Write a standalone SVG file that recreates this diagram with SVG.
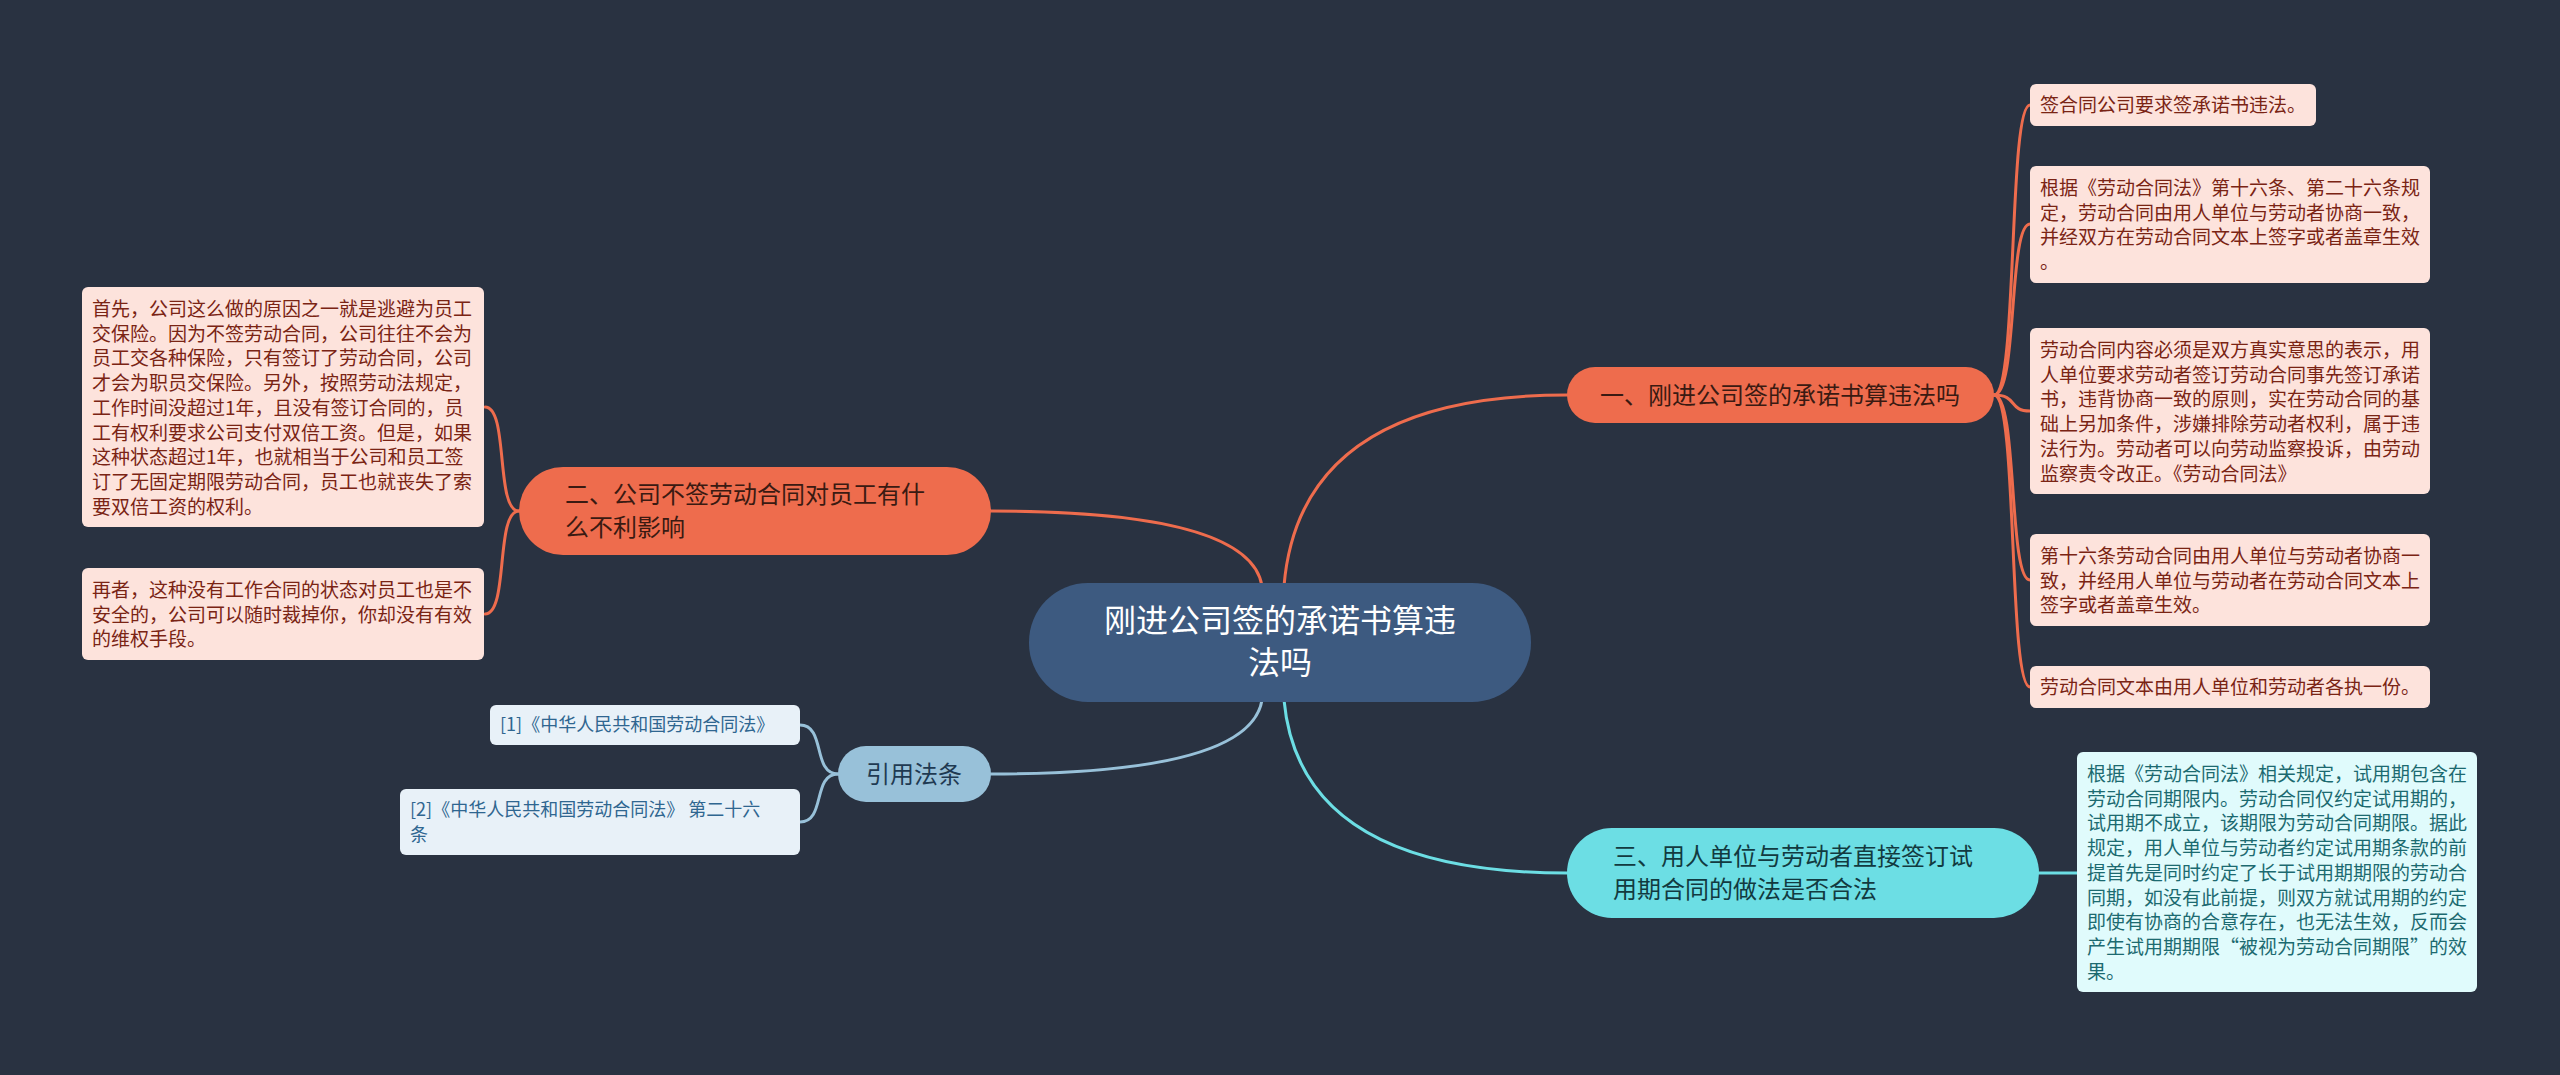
<svg xmlns="http://www.w3.org/2000/svg" width="2560" height="1075" viewBox="0 0 2560 1075">
<style>
text{font-family:"Noto Sans CJK SC","Noto Sans",sans-serif}
.c{fill:none;stroke-width:3;stroke-linecap:round}
.or{stroke:#ee6c4d}.cy{stroke:#6cdee4}.lb{stroke:#98c1d9}
.leafO{fill:#fde3dc}.leafC{fill:#e0fbfc}.leafB{fill:#e8f1f8}
.tO{font-size:19px;fill:#7a2414}
.tC{font-size:19px;fill:#1c6a70}
.tB{font-size:18px;fill:#2f6690}
.main{font-size:24px}
</style>
<rect width="2560" height="1075" fill="#293241"/>
<g id="connectors">
<path class="c or" d="M1284,586 Q1300,395 1567,395"/>
<path class="c or" d="M1262,586 Q1250,511 991,511"/>
<path class="c lb" d="M1262,700 Q1250,774 991,774"/>
<path class="c cy" d="M1284,700 Q1300,873 1567,873"/>
<path class="c or" d="M1994,395 C2018,395 2008,105 2030,105"/>
<path class="c or" d="M1994,395 C2018,395 2008,224 2030,224"/>
<path class="c or" d="M1994,395 C2018,395 2008,411 2030,411"/>
<path class="c or" d="M1994,395 C2018,395 2008,580 2030,580"/>
<path class="c or" d="M1994,395 C2018,395 2008,687 2030,687"/>
<path class="c or" d="M519,511 C495,511 509,407 485,407"/>
<path class="c or" d="M519,511 C495,511 509,614 485,614"/>
<path class="c lb" d="M838,774 C812,774 826,725 800,725"/>
<path class="c lb" d="M838,774 C812,774 826,822 800,822"/>
<path class="c cy" d="M2039,873 L2077,873"/>
</g>
<g id="center">
<rect x="1029" y="583" width="502" height="119" rx="59" fill="#3d5a80"/>
<text x="1280" y="632" font-size="32" fill="#ffffff" text-anchor="middle">刚进公司签的承诺书算违</text>
<text x="1280" y="674" font-size="32" fill="#ffffff" text-anchor="middle">法吗</text>
</g>
<g id="branch1">
<rect x="1567" y="367" width="427" height="56" rx="28" fill="#ee6c4d"/>
<text class="main" x="1780" y="404" fill="#3a1a12" text-anchor="middle">一、刚进公司签的承诺书算违法吗</text>
</g>
<g id="branch2">
<rect x="519" y="467" width="472" height="88" rx="44" fill="#ee6c4d"/>
<text class="main" x="565" y="503" fill="#3a1a12">二、公司不签劳动合同对员工有什</text>
<text class="main" x="565" y="536" fill="#3a1a12">么不利影响</text>
</g>
<g id="branch3">
<rect x="1567" y="828" width="472" height="90" rx="45" fill="#6cdee4"/>
<text class="main" x="1613" y="865" fill="#123a40">三、用人单位与劳动者直接签订试</text>
<text class="main" x="1613" y="898" fill="#123a40">用期合同的做法是否合法</text>
</g>
<g id="refs">
<rect x="838" y="746" width="153" height="56" rx="28" fill="#98c1d9"/>
<text class="main" x="914" y="783" fill="#1f3a52" text-anchor="middle">引用法条</text>
</g>
<g id="leaf1-1">
<rect class="leafO" x="2030" y="84" width="286" height="42" rx="6"/>
<text class="tO" x="2040" y="112">签合同公司要求签承诺书违法。</text>
</g>
<g id="leaf1-2">
<rect class="leafO" x="2030" y="166" width="400" height="117" rx="6"/>
<text class="tO" x="2040" y="195">根据《劳动合同法》第十六条、第二十六条规</text>
<text class="tO" x="2040" y="219.7">定，劳动合同由用人单位与劳动者协商一致，</text>
<text class="tO" x="2040" y="244.4">并经双方在劳动合同文本上签字或者盖章生效</text>
<text class="tO" x="2040" y="269.1">。</text>
</g>
<g id="leaf1-3">
<rect class="leafO" x="2030" y="328" width="400" height="166" rx="6"/>
<text class="tO" x="2040" y="357">劳动合同内容必须是双方真实意思的表示，用</text>
<text class="tO" x="2040" y="381.7">人单位要求劳动者签订劳动合同事先签订承诺</text>
<text class="tO" x="2040" y="406.4">书，违背协商一致的原则，实在劳动合同的基</text>
<text class="tO" x="2040" y="431.1">础上另加条件，涉嫌排除劳动者权利，属于违</text>
<text class="tO" x="2040" y="455.8">法行为。劳动者可以向劳动监察投诉，由劳动</text>
<text class="tO" x="2040" y="480.5">监察责令改正。《劳动合同法》</text>
</g>
<g id="leaf1-4">
<rect class="leafO" x="2030" y="534" width="400" height="92" rx="6"/>
<text class="tO" x="2040" y="563">第十六条劳动合同由用人单位与劳动者协商一</text>
<text class="tO" x="2040" y="587.7">致，并经用人单位与劳动者在劳动合同文本上</text>
<text class="tO" x="2040" y="612.4">签字或者盖章生效。</text>
</g>
<g id="leaf1-5">
<rect class="leafO" x="2030" y="666" width="400" height="42" rx="6"/>
<text class="tO" x="2040" y="694">劳动合同文本由用人单位和劳动者各执一份。</text>
</g>
<g id="leaf2-1">
<rect class="leafO" x="82" y="287" width="402" height="240" rx="6"/>
<text class="tO" x="92" y="316">首先，公司这么做的原因之一就是逃避为员工</text>
<text class="tO" x="92" y="340.7">交保险。因为不签劳动合同，公司往往不会为</text>
<text class="tO" x="92" y="365.4">员工交各种保险，只有签订了劳动合同，公司</text>
<text class="tO" x="92" y="390.1">才会为职员交保险。另外，按照劳动法规定，</text>
<text class="tO" x="92" y="414.8">工作时间没超过1年，且没有签订合同的，员</text>
<text class="tO" x="92" y="439.5">工有权利要求公司支付双倍工资。但是，如果</text>
<text class="tO" x="92" y="464.2">这种状态超过1年，也就相当于公司和员工签</text>
<text class="tO" x="92" y="488.9">订了无固定期限劳动合同，员工也就丧失了索</text>
<text class="tO" x="92" y="513.6">要双倍工资的权利。</text>
</g>
<g id="leaf2-2">
<rect class="leafO" x="82" y="568" width="402" height="92" rx="6"/>
<text class="tO" x="92" y="597">再者，这种没有工作合同的状态对员工也是不</text>
<text class="tO" x="92" y="621.7">安全的，公司可以随时裁掉你，你却没有有效</text>
<text class="tO" x="92" y="646.4">的维权手段。</text>
</g>
<g id="leaf3-1">
<rect class="leafC" x="2077" y="752" width="400" height="240" rx="6"/>
<text class="tC" x="2087" y="781">根据《劳动合同法》相关规定，试用期包含在</text>
<text class="tC" x="2087" y="805.7">劳动合同期限内。劳动合同仅约定试用期的，</text>
<text class="tC" x="2087" y="830.4">试用期不成立，该期限为劳动合同期限。据此</text>
<text class="tC" x="2087" y="855.1">规定，用人单位与劳动者约定试用期条款的前</text>
<text class="tC" x="2087" y="879.8">提首先是同时约定了长于试用期期限的劳动合</text>
<text class="tC" x="2087" y="904.5">同期，如没有此前提，则双方就试用期的约定</text>
<text class="tC" x="2087" y="929.2">即使有协商的合意存在，也无法生效，反而会</text>
<text class="tC" x="2087" y="953.9">产生试用期期限“被视为劳动合同期限”的效</text>
<text class="tC" x="2087" y="978.6">果。</text>
</g>
<g id="ref-1">
<rect class="leafB" x="490" y="705" width="310" height="40" rx="6"/>
<text class="tB" x="500" y="731">[1]《中华人民共和国劳动合同法》</text>
</g>
<g id="ref-2">
<rect class="leafB" x="400" y="789" width="400" height="66" rx="6"/>
<text class="tB" x="410" y="816">[2]《中华人民共和国劳动合同法》 第二十六</text>
<text class="tB" x="410" y="841">条</text>
</g>
</svg>
